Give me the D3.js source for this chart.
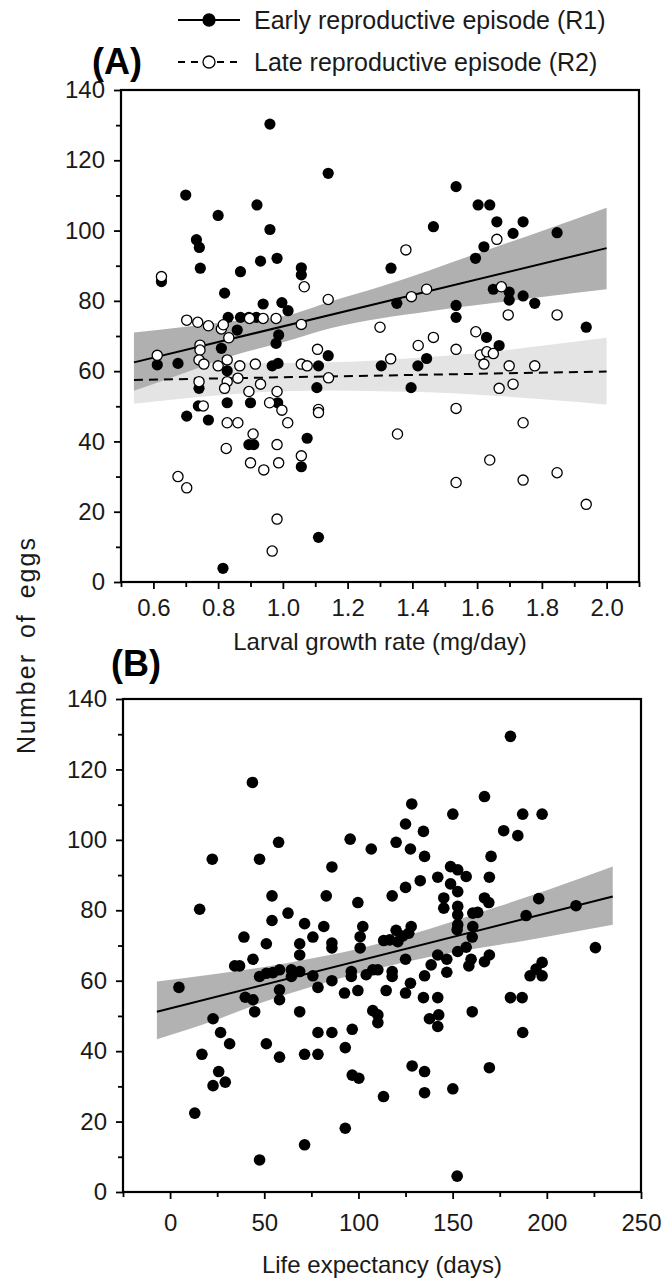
<!DOCTYPE html>
<html>
<head>
<meta charset="utf-8">
<script src="https://cdnjs.cloudflare.com/ajax/libs/d3/7.8.5/d3.min.js"></script>
<style>
  body { margin: 0; background: #fff; }
</style>
</head>
<body>
<div id="chart"></div>
<script>
// ---------------- data ----------------
// panel A, early episode R1: [growth rate mg/day, eggs]
var r1Points = [
  [0.96,130.3],[1.14,116.3],[0.70,110.1],[0.92,107.3],[0.80,104.3],[0.96,100.3],[0.733,97.4],[0.742,95.2],
  [0.745,89.3],[0.931,91.3],[0.982,92.1],[0.869,88.3],[1.057,89.4],[1.057,87.4],[0.82,82.2],[0.939,79.1],
  [0.997,79.5],[1.016,77.2],[0.831,75.3],[0.869,75.3],[0.895,75.3],[0.918,75.3],[0.859,71.7],[0.987,70.3],
  [0.979,67.9],[0.81,66.5],[1.14,64.4],[0.625,85.5],[1.535,112.5],[1.603,107.3],[1.639,107.3],[1.661,102.5],
  [1.742,102.5],[1.465,101.1],[1.711,99.2],[1.847,99.4],[1.621,95.4],[1.595,92.1],[1.334,89.3],[1.65,83.3],
  [1.699,82.5],[1.699,80.2],[1.742,81.4],[1.778,79.3],[1.352,79.3],[1.535,78.7],[1.535,75.3],[1.937,72.5],
  [1.629,69.6],[1.668,67.3],[1.444,63.6],[1.417,61.5],[1.304,61.5],[1.396,55.3],[0.612,61.8],[0.676,62.2],
  [0.828,60.1],[0.967,61.5],[0.985,62.2],[1.110,61.5],[0.741,55.1],[1.105,55.3],[0.739,50.1],[0.828,51.0],
  [0.90,51.0],[0.984,51.0],[0.703,47.2],[0.77,46.1],[1.075,40.9],[0.895,39.1],[0.91,39.1],[1.057,32.8],
  [1.110,12.7],[0.815,3.9]
];
// panel A, late episode R2
var r2Points = [
  [0.625,86.9],[1.066,84.0],[1.14,80.4],[0.703,74.5],[0.737,73.9],[0.77,72.9],[0.81,72.0],[0.816,73.2],
  [0.833,69.5],[0.897,75.0],[0.939,75.0],[0.979,75.0],[1.057,73.3],[1.30,72.5],[0.744,67.4],[0.744,66.0],
  [0.612,64.5],[1.107,66.2],[1.38,94.5],[1.661,97.5],[1.675,84.0],[1.444,83.3],[1.397,81.2],[1.696,76.0],
  [1.847,76.0],[1.465,69.6],[1.418,67.3],[1.535,66.2],[1.596,71.2],[1.333,63.5],[1.61,64.6],[1.63,65.5],
  [1.65,65.0],[0.741,63.2],[0.756,62.0],[0.80,61.5],[0.828,63.2],[0.867,61.5],[0.915,62.0],[1.057,62.0],
  [1.075,61.5],[1.141,58.1],[0.741,57.0],[0.861,58.0],[0.828,57.0],[0.82,55.1],[0.931,56.3],[0.895,54.2],
  [0.982,54.2],[0.754,50.1],[0.959,51.0],[0.997,48.9],[1.110,49.1],[1.110,48.2],[0.828,45.3],[0.861,45.3],
  [1.015,45.3],[0.908,42.1],[0.982,39.1],[0.825,38.0],[1.057,35.9],[0.90,33.9],[0.987,33.9],[0.941,31.9],
  [0.676,30.0],[0.703,26.8],[0.982,17.9],[0.967,8.8],[1.621,62.0],[1.699,61.5],[1.778,61.5],[1.668,55.1],
  [1.711,56.3],[1.535,49.4],[1.742,45.3],[1.354,42.1],[1.639,34.7],[1.535,28.3],[1.742,29.0],[1.847,31.1],
  [1.937,22.1]
];
// fitted lines and 95% bands: [x, low, high]
var r1Fit = [[0.54, 62.5], [2.0, 95.0]];
var r2Fit = [[0.54, 57.5], [2.0, 59.9]];
var r1Band = [[0.54,54.4,71.0],[0.7,59.6,72.6],[0.85,64.5,74.3],[1.0,68.2,75.6],[1.15,72.3,79.9],
              [1.3,75.0,84.0],[1.45,77.0,88.6],[1.6,78.8,93.5],[1.8,81.1,99.9],[2.0,83.3,106.5]];
var r2Band = [[0.54,50.7,64.3],[0.7,52.3,63.3],[0.85,53.5,62.5],[1.0,54.3,62.3],[1.15,54.5,62.5],
              [1.3,54.3,63.1],[1.45,54.0,64.0],[1.6,53.3,65.1],[1.8,52.0,67.2],[2.0,50.5,69.5]];

// panel B: [life expectancy days, eggs]
var lifePoints = [
  [43.7,116.3],[22.4,94.5],[47.5,94.5],[57.6,99.3],[95.6,100.2],[106.8,97.4],[85.9,92.3],[15.7,80.3],
  [54.1,84.1],[82.9,84.1],[62.6,79.2],[54.1,77.1],[99.7,82.2],[71.4,76.2],[81.6,75.4],[102.3,75.4],
  [180.7,129.4],[166.9,112.3],[128.3,110.2],[150.1,107.3],[187.2,107.3],[197.5,107.3],[125.0,104.5],[134.5,102.4],
  [177.1,102.6],[184.6,101.2],[120.0,99.3],[127.6,97.4],[135.1,95.3],[170.4,95.3],[148.9,92.4],[152.7,91.5],
  [157.2,89.6],[142.1,89.4],[132.8,88.4],[125.0,86.5],[117.9,84.1],[148.9,87.5],[152.7,85.3],[169.5,89.4],
  [145.3,83.5],[145.3,80.6],[152.7,81.1],[152.7,78.7],[166.9,83.5],[169.2,82.2],[160.7,79.2],[163.3,79.4],
  [195.7,83.3],[189.0,78.5],[215.5,81.3],[128.0,75.4],[120.0,74.3],[152.7,75.9],[160.7,75.4],
  [39.2,72.4],[75.8,72.4],[51.1,70.5],[68.8,70.5],[85.9,70.7],[85.9,69.3],[100.9,72.5],[100.9,69.3],
  [68.8,67.3],[44.0,66.1],[34.3,64.2],[36.9,64.2],[4.7,58.1],[47.5,61.2],[51.1,62.1],[54.6,62.3],
  [58.1,63.1],[64.4,63.1],[64.4,61.2],[68.8,62.6],[75.8,61.4],[85.9,60.0],[96.2,62.6],[96.2,61.2],
  [104.1,61.7],[107.6,63.1],[78.5,58.1],[58.1,57.4],[58.1,54.6],[39.9,55.3],[44.0,54.6],[44.9,51.2],
  [92.6,56.5],[99.7,57.2],[68.8,51.2],[22.8,49.2],[26.8,45.3],[31.6,42.1],[51.1,42.1],[78.5,45.3],
  [85.9,45.3],[96.7,46.2],[107.6,51.5],[110.3,50.3],[110.3,48.1],[16.9,39.1],[58.1,38.3],[71.4,39.1],
  [78.5,39.1],[93.0,41.0],[25.8,34.2],[22.8,30.2],[29.3,31.2],[96.7,33.2],[100.2,32.3],[13.1,22.4],
  [93.0,18.1],[71.4,13.4],[47.5,9.1],[113.3,27.1],
  [126.7,73.5],[123.6,72.7],[116.6,71.6],[113.4,71.4],[120.9,71.1],[152.4,74.5],[160.4,72.4],[152.7,68.3],
  [157.2,69.5],[125.0,66.1],[142.1,67.3],[138.6,64.5],[146.9,66.1],[159.8,66.1],[158.6,64.2],[166.9,65.4],
  [169.5,67.3],[146.9,62.4],[135.1,61.4],[110.3,63.1],[117.9,62.6],[117.9,61.2],[197.5,65.2],[194.3,63.3],
  [191.1,61.4],[197.5,61.4],[225.8,69.4],[127.6,59.3],[125.0,56.5],[114.7,57.2],[134.5,55.2],[142.1,55.2],
  [180.7,55.2],[186.9,55.2],[137.7,49.2],[142.6,50.3],[142.1,47.0],[160.4,51.2],[187.2,45.3],[128.5,35.8],
  [135.1,34.2],[169.5,35.3],[135.1,28.2],[150.1,29.3],[152.4,4.5]
];
var lifeFit = [[-7, 51.2], [235, 83.9]];
var lifeBand = [[-7,43.4,59.8],[25,49.0,62.0],[50,54.0,63.9],[75,58.3,66.3],[100,62.1,69.1],
                [125,65.3,72.7],[150,68.0,76.8],[175,70.2,81.2],[200,72.5,85.7],[235,75.9,92.4]];

// ticks and labels
var eggTicks = [0, 20, 40, 60, 80, 100, 120, 140];
var eggMinor = [10, 30, 50, 70, 90, 110, 130];
var growthTicks = [0.6, 0.8, 1.0, 1.2, 1.4, 1.6, 1.8, 2.0];
var growthMinor = [0.5, 0.7, 0.9, 1.1, 1.3, 1.5, 1.7, 1.9, 2.1];
var lifeTicks = [0, 50, 100, 150, 200, 250];
var lifeMinor = [-25, 25, 75, 125, 175, 225];
var legendLabels = ["Early reproductive episode (R1)", "Late reproductive episode (R2)"];

// ---------------- layout ----------------
var FONT = "'Liberation Sans', Arial, sans-serif";
var W = 666, H = 1281;
var boxA = {left: 121, right: 639, top: 90, bottom: 582};
var boxB = {left: 123, right: 641, top: 699, bottom: 1192};

var svg = d3.select("#chart").append("svg")
  .attr("width", W).attr("height", H)
  .style("font-family", FONT);

var xA = d3.scaleLinear().domain([0.5, 2.1]).range([boxA.left, boxA.right]);
var yA = d3.scaleLinear().domain([0, 140]).range([boxA.bottom, boxA.top]);
var xB = d3.scaleLinear().domain([-25, 250]).range([boxB.left, boxB.right]);
var yB = d3.scaleLinear().domain([0, 140]).range([boxB.bottom, boxB.top]);

function bandArea(x, y) {
  return d3.area()
    .x(function (d) { return x(d[0]); })
    .y0(function (d) { return y(d[1]); })
    .y1(function (d) { return y(d[2]); })
    .curve(d3.curveMonotoneX);
}
function fitLine(x, y) {
  return d3.line()
    .x(function (d) { return x(d[0]); })
    .y(function (d) { return y(d[1]); });
}

// frame, ticks and tick labels for one panel
function drawAxes(box, x, y, xMajor, xMinor, xFmt, xPad) {
  var g = svg.append("g");
  g.append("g").attr("transform", "translate(0," + box.bottom + ")")
    .call(d3.axisBottom(x).tickValues(xMinor).tickSize(5).tickFormat(""));
  g.append("g").attr("transform", "translate(0," + box.bottom + ")")
    .call(d3.axisBottom(x).tickValues(xMajor).tickSize(7).tickPadding(xPad).tickFormat(xFmt));
  g.append("g").attr("transform", "translate(" + box.left + ",0)")
    .call(d3.axisLeft(y).tickValues(eggMinor).tickSize(5).tickFormat(""));
  g.append("g").attr("transform", "translate(" + box.left + ",0)")
    .call(d3.axisLeft(y).tickValues(eggTicks).tickSize(7).tickPadding(9).tickFormat(d3.format("d")));

  g.selectAll(".domain").remove();
  g.selectAll(".tick line").attr("stroke", "#000").attr("stroke-width", 1.8);
  g.selectAll(".tick text")
    .attr("fill", "#1a1a1a")
    .style("font-family", FONT)
    .style("font-size", "24px");

  g.append("rect")
    .attr("x", box.left).attr("y", box.top)
    .attr("width", box.right - box.left).attr("height", box.bottom - box.top)
    .attr("fill", "none").attr("stroke", "#000").attr("stroke-width", 2.2);
}

// ---------------- panel A ----------------
var pA = svg.append("g");
pA.append("path").datum(r2Band).attr("d", bandArea(xA, yA)).attr("fill", "#e4e4e4");
pA.append("path").datum(r1Band).attr("d", bandArea(xA, yA)).attr("fill", "#b0b0b0");
pA.append("path").datum(r1Fit).attr("d", fitLine(xA, yA))
  .attr("fill", "none").attr("stroke", "#000").attr("stroke-width", 2);
pA.append("path").datum(r2Fit).attr("d", fitLine(xA, yA))
  .attr("fill", "none").attr("stroke", "#000").attr("stroke-width", 2)
  .attr("stroke-dasharray", "9,6");

pA.selectAll("circle.r1").data(r1Points).enter().append("circle")
  .attr("class", "r1")
  .attr("cx", function (d) { return xA(d[0]); })
  .attr("cy", function (d) { return yA(d[1]); })
  .attr("r", 5.6).attr("fill", "#000");
pA.selectAll("circle.r2").data(r2Points).enter().append("circle")
  .attr("class", "r2")
  .attr("cx", function (d) { return xA(d[0]); })
  .attr("cy", function (d) { return yA(d[1]); })
  .attr("r", 5.1).attr("fill", "#fff").attr("stroke", "#000").attr("stroke-width", 1.3);

drawAxes(boxA, xA, yA, growthTicks, growthMinor, d3.format(".1f"), 10);

// ---------------- panel B ----------------
var pB = svg.append("g");
pB.append("path").datum(lifeBand).attr("d", bandArea(xB, yB)).attr("fill", "#b2b2b2");
pB.append("path").datum(lifeFit).attr("d", fitLine(xB, yB))
  .attr("fill", "none").attr("stroke", "#000").attr("stroke-width", 2);
pB.selectAll("circle").data(lifePoints).enter().append("circle")
  .attr("cx", function (d) { return xB(d[0]); })
  .attr("cy", function (d) { return yB(d[1]); })
  .attr("r", 5.8).attr("fill", "#000");

drawAxes(boxB, xB, yB, lifeTicks, lifeMinor, d3.format("d"), 15);

// ---------------- labels ----------------
svg.append("text")
  .attr("x", (boxA.left + boxA.right) / 2).attr("y", 650)
  .attr("text-anchor", "middle").attr("fill", "#1a1a1a")
  .style("font-size", "24px")
  .text("Larval growth rate (mg/day)");

svg.append("text")
  .attr("x", (boxB.left + boxB.right) / 2).attr("y", 1273)
  .attr("text-anchor", "middle").attr("fill", "#1a1a1a")
  .style("font-size", "24px")
  .text("Life expectancy (days)");

svg.append("text")
  .attr("transform", "translate(35,645) rotate(-90)")
  .attr("text-anchor", "middle").attr("fill", "#1a1a1a")
  .style("font-size", "25px").style("letter-spacing", "2px").style("word-spacing", "6px")
  .text("Number of eggs");

svg.append("text")
  .attr("x", 92).attr("y", 74)
  .attr("font-weight", "bold").attr("fill", "#000")
  .style("font-size", "36px")
  .text("(A)");

svg.append("text")
  .attr("x", 111).attr("y", 676)
  .attr("font-weight", "bold").attr("fill", "#000")
  .style("font-size", "36px")
  .text("(B)");

// legend
var legend = svg.append("g");
legendLabels.forEach(function (label, i) {
  var ly = 20 + i * 42;
  legend.append("line")
    .attr("x1", 178).attr("x2", 240).attr("y1", ly).attr("y2", ly)
    .attr("stroke", "#000").attr("stroke-width", 2)
    .attr("stroke-dasharray", i === 0 ? null : "7,6");
  legend.append("circle")
    .attr("cx", 209).attr("cy", ly).attr("r", 6)
    .attr("fill", i === 0 ? "#000" : "#fff")
    .attr("stroke", "#000").attr("stroke-width", 1.3);
  legend.append("text")
    .attr("x", 254).attr("y", ly).attr("dy", "0.36em")
    .attr("fill", "#1a1a1a")
    .style("font-size", "25px")
    .text(label);
});
</script>
</body>
</html>
